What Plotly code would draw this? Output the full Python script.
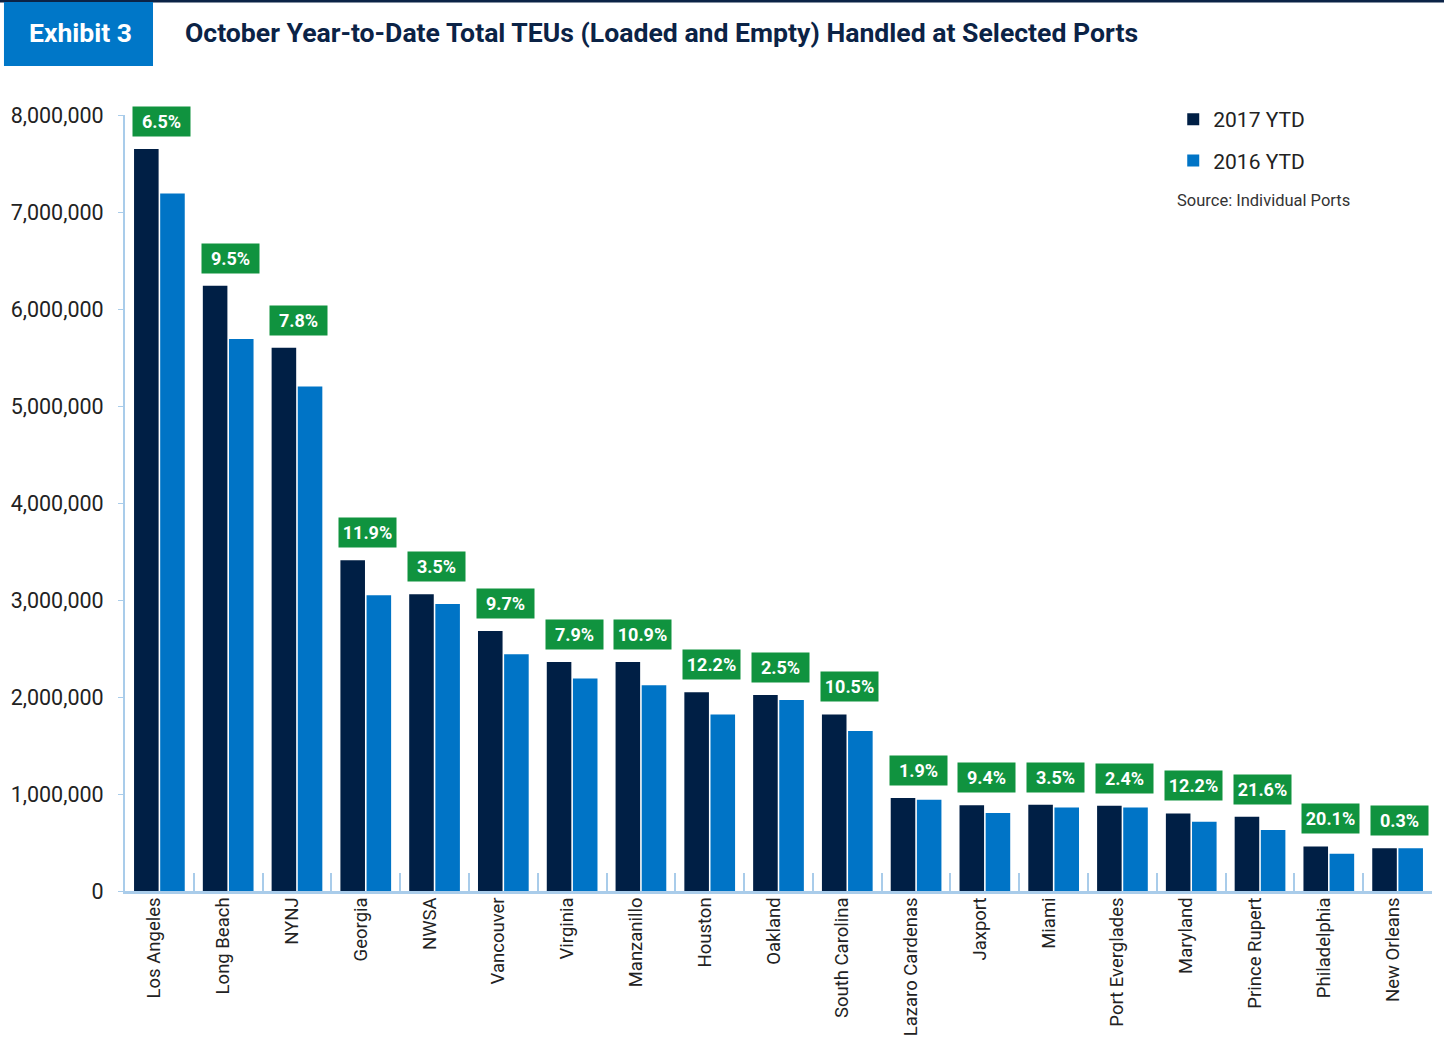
import plotly.graph_objects as go

ports = ["Los Angeles", "Long Beach", "NYNJ", "Georgia", "NWSA", "Vancouver", "Virginia",
         "Manzanillo", "Houston", "Oakland", "South Carolina", "Lazaro Cardenas", "Jaxport",
         "Miami", "Port Everglades", "Maryland", "Prince Rupert", "Philadelphia", "New Orleans"]
ytd_2017 = [7650000, 6240000, 5600000, 3410000, 3060000, 2680000, 2360000, 2360000, 2050000,
            2020000, 1820000, 960000, 885000, 890000, 880000, 800000, 765000, 460000, 440000]
ytd_2016 = [7190000, 5690000, 5200000, 3050000, 2960000, 2440000, 2190000, 2120000, 1820000,
            1970000, 1650000, 940000, 805000, 860000, 860000, 715000, 630000, 385000, 440000]
growth = ["6.5%", "9.5%", "7.8%", "11.9%", "3.5%", "9.7%", "7.9%", "10.9%", "12.2%", "2.5%",
          "10.5%", "1.9%", "9.4%", "3.5%", "2.4%", "12.2%", "21.6%", "20.1%", "0.3%"]
y_ticks = [0, 1000000, 2000000, 3000000, 4000000, 5000000, 6000000, 7000000, 8000000]

NAVY = "#001F45"
BLUE = "#0074C6"
GREEN = "#10933F"
AXIS = "#A9CCEA"
FONT = "Roboto"

L, R, T, B = 125, 12.3, 115, 166
PW = 1444 - L - R
PH = 1057 - T - B


def px_x(px):
    return (px - L) / PW


def px_y(py):
    return (1057 - B - py) / PH


fig = go.Figure()
fig.add_trace(go.Bar(x=ports, y=ytd_2017, name="2017 YTD", legendgroup="a",
                     marker_color=NAVY, marker_line_width=0))
fig.add_trace(go.Bar(x=ports, y=ytd_2016, name="2016 YTD", legendgroup="b",
                     marker_color=BLUE, marker_line_width=0))

for p, a, b, g in zip(ports, ytd_2017, ytd_2016, growth):
    fig.add_annotation(x=p, y=max(a, b), xref="x", yref="y", text="<b>" + g + "</b>",
                       showarrow=False, yanchor="bottom", yshift=12, xshift=2,
                       bgcolor=GREEN, width=51, height=23, borderpad=3,
                       font=dict(family=FONT, size=18, color="white"))

# header
fig.add_shape(type="line", xref="paper", yref="paper", x0=px_x(0), x1=px_x(1444),
              y0=px_y(1), y1=px_y(1), line=dict(color="#0B2346", width=3))
fig.add_shape(type="rect", xref="paper", yref="paper", x0=px_x(4), x1=px_x(153),
              y0=px_y(66), y1=px_y(2), fillcolor="#0077C8", line_width=0)
fig.add_annotation(xref="paper", yref="paper", x=px_x(81), y=px_y(33), text="<b>Exhibit 3</b>",
                   showarrow=False, xanchor="center", yanchor="middle",
                   font=dict(family=FONT, size=26.5, color="white"))
fig.add_annotation(xref="paper", yref="paper", x=px_x(183), y=px_y(33),
                   text="<b>October Year-to-Date Total TEUs (Loaded and Empty) Handled at Selected Ports</b>",
                   showarrow=False, xanchor="left", yanchor="middle",
                   font=dict(family=FONT, size=26.6, color="#0B2346"))
fig.add_annotation(xref="paper", yref="paper", x=px_x(1175), y=px_y(200),
                   text="Source: Individual Ports", showarrow=False, xanchor="left", yanchor="middle",
                   font=dict(family=FONT, size=16.5, color="#333333"))

fig.update_layout(
    width=1444, height=1057,
    margin=dict(l=L, r=R, t=T, b=B),
    paper_bgcolor="white", plot_bgcolor="white",
    barmode="group", bargap=0.24, bargroupgap=0.06,
    font=dict(family=FONT, color="#222222"),
    legend=dict(x=px_x(1173), y=px_y(99), xanchor="left", yanchor="top",
                font=dict(family=FONT, size=21, color="#222222"),
                tracegroupgap=11, bgcolor="rgba(0,0,0,0)"),
    showlegend=True,
)
fig.update_xaxes(showline=True, linecolor=AXIS, linewidth=3, ticks="inside", tickson="boundaries",
                 ticklen=18, tickcolor=AXIS, tickwidth=2, tickangle=-90,
                 tickfont=dict(family=FONT, size=18.5, color="#222222"), showgrid=False,
                 ticklabelstandoff=-4, ticklabelshift=-5, automargin=False)
fig.update_yaxes(range=[0, 8000000], tickvals=y_ticks, tickformat=",d", showline=True,
                 linecolor=AXIS, linewidth=2, ticks="outside", ticklen=5, tickcolor=AXIS,
                 tickfont=dict(family=FONT, size=21.5, color="#222222"), showgrid=False,
                 zeroline=False, ticklabelstandoff=10, automargin=False)

fig.write_html("out.html")
